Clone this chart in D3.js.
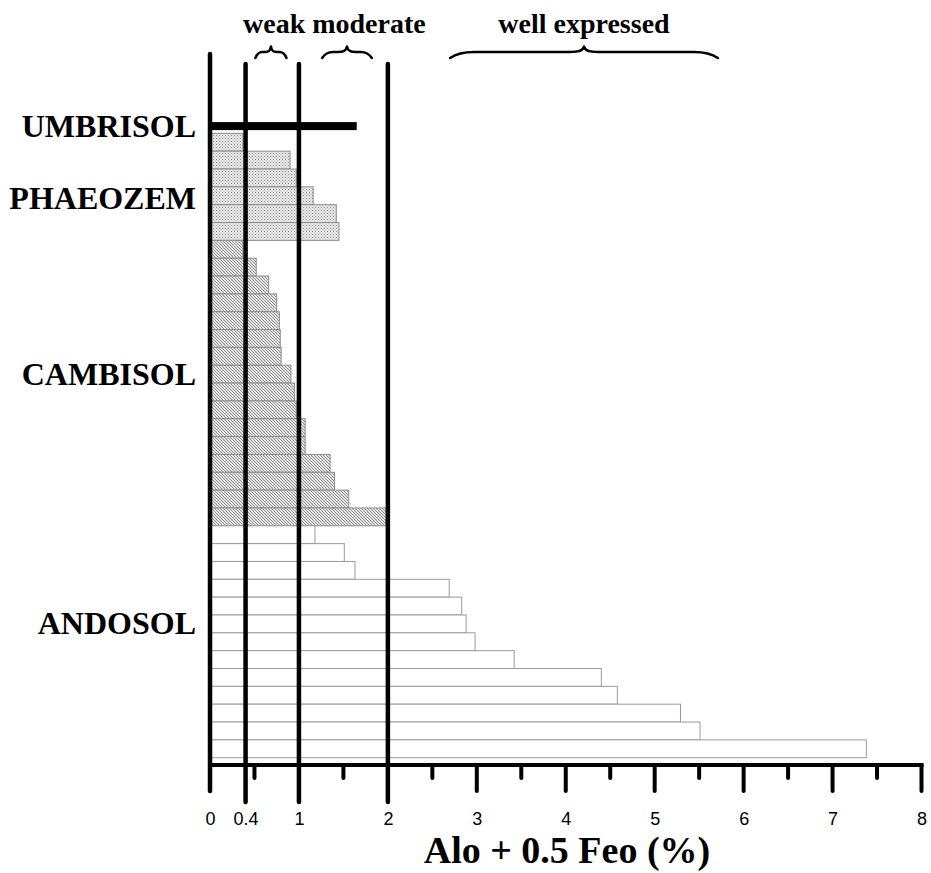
<!DOCTYPE html>
<html>
<head>
<meta charset="utf-8">
<script src="https://d3js.org/d3.v7.min.js"></script>
<style>
    body { margin: 0; background: #fff; }
    svg { display: block; }
</style>
</head>
<body>
<div id="soilChart"></div>
<script>
// Soil groups and their values (Alo + 0.5 Feo, %)
var soilGroups = ["UMBRISOL", "PHAEOZEM", "CAMBISOL", "ANDOSOL"];
var umbrisolValues = [1.65];
var phaeozemValues = [0.37, 0.90, 0.97, 1.16, 1.42, 1.45];
var cambisolValues = [0.37, 0.52, 0.66, 0.75, 0.78, 0.79, 0.80, 0.91, 0.95, 0.97, 1.07, 1.07, 1.35, 1.40, 1.56, 1.98];
var andosolValues = [1.18, 1.51, 1.63, 2.69, 2.83, 2.88, 2.98, 3.42, 4.40, 4.58, 5.29, 5.51, 7.38];

// Axis ticks
var tickLabels = [0, 0.4, 1, 2, 3, 4, 5, 6, 7, 8];
var majorTicks = [0, 3, 4, 5, 6, 7, 8];
var minorTicks = [0.5, 1.5, 2.5, 3.5, 4.5, 5.5, 6.5, 7.5];
var thresholds = [0.4, 1, 2];

// Andic property classes shown with braces on top
var classNames = ["weak", "moderate", "well expressed"];
var classRanges = [[0.51, 0.86], [1.26, 1.82], [2.70, 5.71]];

function init() {
    var w = 931,
        h = 873;

    var groupValues = [umbrisolValues, phaeozemValues, cambisolValues, andosolValues];

    // Flatten into rows
    var rows = [];
    groupValues.forEach(function(values, g) {
        values.forEach(function(v) {
            rows.push({group: soilGroups[g], value: v, index: rows.length});
        });
    });

    var xScale = d3.scaleLinear()
        .domain([0, 8])
        .range([210, 921.5]);

    var yScale = d3.scaleBand()
        .domain(rows.map(d => d.index))
        .range([115.5, 757.7])
        .padding(0);

    // row position -> pixel, used for group labels
    var rowScale = d3.scaleLinear()
        .domain([0, rows.length])
        .range([115.5, 757.7]);

    var svg = d3.select("#soilChart")
        .append("svg")
        .attr("width", w)
        .attr("height", h)
        .style("background", "#fff");

    // Fill patterns
    var defs = svg.append("defs");

    var dots = defs.append("pattern")
        .attr("id", "dots")
        .attr("width", 3)
        .attr("height", 3)
        .attr("patternUnits", "userSpaceOnUse");
    dots.append("rect").attr("width", 3).attr("height", 3).attr("fill", "#e8e8e8");
    dots.append("rect").attr("width", 1).attr("height", 1).attr("fill", "#8e8e8e");
    dots.append("rect").attr("x", 1.5).attr("y", 1.5).attr("width", 1).attr("height", 1).attr("fill", "#b4b4b4");

    var hatch = defs.append("pattern")
        .attr("id", "hatch")
        .attr("width", 3)
        .attr("height", 3)
        .attr("patternUnits", "userSpaceOnUse");
    hatch.append("rect").attr("width", 3).attr("height", 3).attr("fill", "#e4e4e4");
    hatch.append("path")
        .attr("d", "M-1,-1 L4,4 M-1,2 L1,4 M2,-1 L4,1")
        .attr("stroke", "#8a8a8a")
        .attr("stroke-width", 0.9);

    var fills = {
        "PHAEOZEM": "url(#dots)",
        "CAMBISOL": "url(#hatch)",
        "ANDOSOL": "#fff"
    };

    // Bars (umbrisol drawn as a thick black bar)
    svg.append("g")
        .selectAll("rect")
        .data(rows.filter(d => d.group !== "UMBRISOL"))
        .join("rect")
        .attr("x", xScale(0))
        .attr("y", d => yScale(d.index))
        .attr("width", d => xScale(d.value) - xScale(0))
        .attr("height", yScale.bandwidth())
        .attr("fill", d => fills[d.group])
        .attr("stroke", d => d.group === "ANDOSOL" ? "#9a9a9a" : "#8c8c8c")
        .attr("stroke-width", 1);

    svg.append("g")
        .selectAll("rect")
        .data(rows.filter(d => d.group === "UMBRISOL"))
        .join("rect")
        .attr("x", xScale(0))
        .attr("y", d => yScale(d.index) + yScale.bandwidth() * 0.37)
        .attr("width", d => xScale(d.value) - xScale(0))
        .attr("height", 8)
        .attr("fill", "#000");

    // x axis: labels from d3, ticks drawn below
    var xAxis = d3.axisBottom(xScale)
        .tickValues(tickLabels)
        .tickSize(0)
        .tickFormat(d3.format("~g"));

    var axisG = svg.append("g")
        .attr("class", "x axis")
        .attr("transform", "translate(0,765)")
        .call(xAxis);
    axisG.select(".domain").remove();
    axisG.selectAll("text")
        .attr("y", 60)
        .attr("dy", null)
        .style("font-family", "'Liberation Sans', Arial, sans-serif")
        .style("font-size", "18px")
        .attr("fill", "#000");

    var ticksG = svg.append("g")
        .attr("stroke", "#000")
        .attr("stroke-linecap", "round");

    ticksG.append("line")
        .attr("x1", xScale(0))
        .attr("x2", xScale(8))
        .attr("y1", 765)
        .attr("y2", 765)
        .attr("stroke-width", 4)
        .attr("stroke-linecap", "square");

    ticksG.selectAll(".major")
        .data(majorTicks.filter(d => d !== 0))
        .join("line")
        .attr("class", "major")
        .attr("x1", d => xScale(d))
        .attr("x2", d => xScale(d))
        .attr("y1", 765)
        .attr("y2", 791)
        .attr("stroke-width", 4);

    ticksG.selectAll(".minor")
        .data(minorTicks)
        .join("line")
        .attr("class", "minor")
        .attr("x1", d => xScale(d))
        .attr("x2", d => xScale(d))
        .attr("y1", 765)
        .attr("y2", 778)
        .attr("stroke-width", 4);

    // zero line (left axis)
    ticksG.append("line")
        .attr("x1", xScale(0))
        .attr("x2", xScale(0))
        .attr("y1", 54)
        .attr("y2", 791)
        .attr("stroke-width", 4.5);

    // threshold lines
    ticksG.selectAll(".threshold")
        .data(thresholds)
        .join("line")
        .attr("class", "threshold")
        .attr("x1", d => xScale(d))
        .attr("x2", d => xScale(d))
        .attr("y1", 64)
        .attr("y2", 802)
        .attr("stroke-width", 4.5);

    // Group labels
    var labelRows = [0.6, 4.6, 14.5, 28.45];
    svg.append("g")
        .selectAll("text")
        .data(soilGroups)
        .join("text")
        .attr("x", 196)
        .attr("y", (d, i) => rowScale(labelRows[i]) + 11)
        .attr("text-anchor", "end")
        .style("font-family", "'Liberation Serif', 'Times New Roman', serif")
        .style("font-weight", "bold")
        .style("font-size", "32px")
        .text(d => d);

    // Class captions
    var captionStyle = function(sel) {
        sel.style("font-family", "'Liberation Serif', 'Times New Roman', serif")
            .style("font-weight", "bold")
            .style("font-size", "28px");
    };
    svg.append("text")
        .attr("x", 243)
        .attr("y", 33)
        .call(captionStyle)
        .text(classNames[0] + " " + classNames[1]);
    svg.append("text")
        .attr("x", 584)
        .attr("y", 33)
        .attr("text-anchor", "middle")
        .call(captionStyle)
        .text(classNames[2]);

    // Braces (curly, tip pointing up)
    function bracePath(r) {
        var x1 = xScale(r[0]),
            x2 = xScale(r[1]),
            xm = (x1 + x2) / 2,
            yb = 58, ym = 52, yt = 46.5,
            c = Math.min(24, (x2 - x1) * 0.22),
            t = Math.min(14, (x2 - x1) * 0.18);
        return "M" + x1 + "," + yb +
            " C" + (x1 + c * 0.3) + "," + (ym + 1) + " " + (x1 + c * 0.6) + "," + ym + " " + (x1 + c) + "," + ym +
            " L" + (xm - t) + "," + ym +
            " C" + (xm - t * 0.4) + "," + ym + " " + (xm - 1) + "," + (ym - 1) + " " + xm + "," + yt +
            " C" + (xm + 1) + "," + (ym - 1) + " " + (xm + t * 0.4) + "," + ym + " " + (xm + t) + "," + ym +
            " L" + (x2 - c) + "," + ym +
            " C" + (x2 - c * 0.6) + "," + ym + " " + (x2 - c * 0.3) + "," + (ym + 1) + " " + x2 + "," + yb;
    }
    svg.append("g")
        .selectAll("path")
        .data(classRanges)
        .join("path")
        .attr("d", bracePath)
        .attr("fill", "none")
        .attr("stroke", "#000")
        .attr("stroke-width", 2.5)
        .attr("stroke-linejoin", "round")
        .attr("stroke-linecap", "round");

    // Axis title
    svg.append("text")
        .attr("x", 567)
        .attr("y", 863)
        .attr("text-anchor", "middle")
        .style("font-family", "'Liberation Serif', 'Times New Roman', serif")
        .style("font-weight", "bold")
        .style("font-size", "38px")
        .text("Alo + 0.5 Feo (%)");
}

init();
</script>
</body>
</html>
